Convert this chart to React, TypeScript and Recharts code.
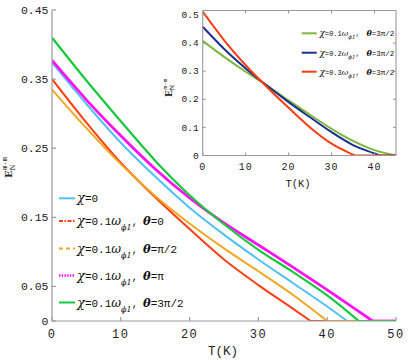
import React from 'react';
import { LineChart, Line, XAxis, YAxis } from 'recharts';

type Pt = [number, number];

// ---------- main chart data: T (K) vs E_N^{m-m} ----------
const chiZero: Pt[] = [[0, 0.374], [5, 0.314], [10, 0.258], [15, 0.209], [20, 0.164], [25, 0.125], [30, 0.089], [35, 0.055], [40, 0.021], [42.9, 0]];
const thetaZero: Pt[] = [[0, 0.35], [5, 0.287], [10, 0.229], [15, 0.179], [20, 0.133], [25, 0.089], [30, 0.052], [35, 0.018], [37.6, 0]];
const thetaHalfPi: Pt[] = [[0, 0.335], [5, 0.279], [10, 0.227], [15, 0.181], [20, 0.141], [25, 0.105], [30, 0.072], [35, 0.038], [40, 0]];
const thetaPi: Pt[] = [[0, 0.377], [5, 0.32], [10, 0.268], [15, 0.22], [20, 0.178], [25, 0.142], [30, 0.11], [35, 0.078], [40, 0.045], [45, 0.011], [46.6, 0]];
const theta3HalfPi: Pt[] = [[0, 0.41], [5, 0.348], [10, 0.289], [15, 0.232], [20, 0.182], [25, 0.14], [30, 0.103], [35, 0.071], [40, 0.037], [44.6, 0]];
const mainTMax = 50;

// ---------- inset data ----------
const insetChi01: Pt[] = [[0, 0.408], [5, 0.351], [10, 0.298], [15, 0.249], [20, 0.196], [25, 0.145], [30, 0.095], [35, 0.052], [40, 0.019], [45, 0]];
const insetChi02: Pt[] = [[0, 0.458], [5, 0.379], [10, 0.31], [15, 0.248], [20, 0.19], [25, 0.136], [30, 0.083], [35, 0.037], [40, 0.007], [41.2, 0]];
const insetChi03: Pt[] = [[0, 0.512], [5, 0.41], [10, 0.321], [15, 0.243], [20, 0.17], [25, 0.1], [30, 0.042], [35, 0.003], [35.4, 0]];
const insetTMax = 45;

// ---------- ticks & labels ----------
const mainXTicks = [0, 10, 20, 30, 40, 50];
const mainYTicks = [0, 0.05, 0.15, 0.25, 0.35, 0.45];
const insetXTicks = [0, 10, 20, 30, 40];
const insetTopTicks = [10, 20, 30, 40];
const insetYTicks = [0, 0.1, 0.2, 0.3, 0.4, 0.5];
const insetRightTicks = [0.1, 0.2, 0.3, 0.4];
const mainLegendTheta = ['', '0', 'π/2', 'π', '3π/2'];
const insetLegendChi = ['0.1', '0.2', '0.3'];
const xTitle = 'T(K)';

const mainColors = ['#52c0f2', '#ff4012', '#f2a624', '#ff10f4', '#16c83c'];
const mainWidths = [2, 2, 2, 2.8, 2.2];
const mainDash = ['', '4 1.5 1.5 1.5', '4 3', '1.5 1.2', ''];
const insetColors = ['#7db83c', '#1c2f8f', '#ff3b10'];

const AX = '#9a9a9a';
const MONO = 'Liberation Mono, DejaVu Sans Mono, monospace';
const SERIF = 'DejaVu Serif, Liberation Serif, serif';

const toData = (pts: Pt[]) => pts.map(([T, E]) => ({ T, E }));
const tail = (pts: Pt[], end: number) => {
  const last = pts[pts.length - 1][0];
  return last < end ? [{ T: last, E: 0 }, { T: end, E: 0 }] : [];
};
const fmtMain = (v: number) => (v === 0 ? '0' : v.toFixed(2));
const fmtInset = (v: number) => (v === 0 ? '0' : v.toFixed(1));

const MainYTick = (p: any) => (
  <g>
    <line x1={p.x} x2={p.x + 4} y1={p.y} y2={p.y} stroke={AX} strokeWidth={1.2} />
    <text x={p.x - 3.5} y={p.y + 3.8} textAnchor="end" fontFamily={MONO} fontSize={11.5} fill="#222">
      {fmtMain(p.payload.value)}
    </text>
  </g>
);
const MainXTick = (p: any) => (
  <g>
    <line x1={p.x} x2={p.x} y1={p.y} y2={p.y - 4} stroke={AX} strokeWidth={1.2} />
    <text x={p.x} y={p.y + 16.5} textAnchor="middle" fontFamily={MONO} fontSize={12} letterSpacing={1.5} fill="#222">
      {p.payload.value}
    </text>
  </g>
);
const InsetYTick = (p: any) => (
  <g>
    <line x1={p.x} x2={p.x + 3} y1={p.y} y2={p.y} stroke={AX} strokeWidth={1.1} />
    <text x={p.x - 4} y={p.y + 3.2} textAnchor="end" fontFamily={MONO} fontSize={9.5} fill="#222">
      {fmtInset(p.payload.value)}
    </text>
  </g>
);
const InsetXTick = (p: any) => (
  <g>
    <line x1={p.x} x2={p.x} y1={p.y} y2={p.y - 3} stroke={AX} strokeWidth={1.1} />
    <text x={p.x} y={p.y + 14.5} textAnchor="middle" fontFamily={MONO} fontSize={10} letterSpacing={1} fill="#222">
      {p.payload.value}
    </text>
  </g>
);
const InsetTopTick = (p: any) => (
  <line x1={p.x} x2={p.x} y1={p.y} y2={p.y + 3} stroke={AX} strokeWidth={1.1} />
);
const InsetRightTick = (p: any) => (
  <line x1={p.x} x2={p.x - 3} y1={p.y} y2={p.y} stroke={AX} strokeWidth={1.1} />
);

const mainSeries = [chiZero, thetaZero, thetaHalfPi, thetaPi, theta3HalfPi];
const insetSeries = [insetChi01, insetChi02, insetChi03];

const mainLegendY = [198.3, 221, 248.5, 275.5, 302.5];
const insetLegendY = [33.3, 52.7, 71.7];

export default function App() {
  return (
    <div style={{ position: 'absolute', left: 0, top: 0, width: 415, height: 360, background: '#fff' }}>
      <div style={{ position: 'absolute', left: 0, top: 0 }}>
        <LineChart width={415} height={360} margin={{ left: 22, right: 19, top: 10, bottom: 9 }}>
          <XAxis dataKey="T" type="number" domain={[0, 50]} ticks={mainXTicks} allowDataOverflow
            height={30} tickSize={0} tickMargin={0} tick={<MainXTick />} tickLine={false}
            axisLine={{ stroke: AX, strokeWidth: 1.2 }} interval={0} />
          <YAxis type="number" domain={[0, 0.45]} ticks={mainYTicks} allowDataOverflow
            width={30} tickSize={0} tickMargin={0} tick={<MainYTick />} tickLine={false}
            axisLine={{ stroke: AX, strokeWidth: 1.2 }} interval={0} />
          {mainSeries.map((s, i) => [
            <Line key={'m' + i} data={toData(s)} dataKey="E" type="monotone" stroke={mainColors[i]}
              strokeWidth={mainWidths[i]} dot={false} activeDot={false} isAnimationActive={false} />,
            <Line key={'mt' + i} data={tail(s, mainTMax)} dataKey="E" type="linear" stroke={mainColors[i]}
              strokeWidth={mainWidths[i]} dot={false} activeDot={false} isAnimationActive={false} />,
          ])}
        </LineChart>
      </div>
      <div style={{ position: 'absolute', left: 0, top: 0 }}>
        <LineChart width={415} height={200} margin={{ left: 172.7, right: 18, top: 9.5, bottom: 14.5 }}>
          <XAxis dataKey="T" type="number" domain={[0, 45]} ticks={insetXTicks} allowDataOverflow
            height={30} tickSize={0} tickMargin={0} tick={<InsetXTick />} tickLine={false}
            axisLine={{ stroke: AX, strokeWidth: 1.1 }} interval={0} />
          <XAxis xAxisId="top" orientation="top" dataKey="T" type="number" domain={[0, 45]} ticks={insetTopTicks}
            allowDataOverflow height={1} tickSize={0} tickMargin={0} tick={<InsetTopTick />} tickLine={false}
            axisLine={{ stroke: AX, strokeWidth: 1.1 }} interval={0} />
          <YAxis type="number" domain={[0, 0.516]} ticks={insetYTicks} allowDataOverflow
            width={30} tickSize={0} tickMargin={0} tick={<InsetYTick />} tickLine={false}
            axisLine={{ stroke: AX, strokeWidth: 1.1 }} interval={0} />
          <YAxis yAxisId="right" orientation="right" type="number" domain={[0, 0.516]} ticks={insetRightTicks}
            allowDataOverflow width={1} tickSize={0} tickMargin={0} tick={<InsetRightTick />} tickLine={false}
            axisLine={{ stroke: AX, strokeWidth: 1.1 }} interval={0} />
          {insetSeries.map((s, i) => [
            <Line key={'i' + i} data={toData(s)} dataKey="E" type="monotone" stroke={insetColors[i]}
              strokeWidth={2} dot={false} activeDot={false} isAnimationActive={false} />,
            <Line key={'it' + i} data={tail(s, insetTMax)} dataKey="E" type="linear" stroke={insetColors[i]}
              strokeWidth={2} dot={false} activeDot={false} isAnimationActive={false} />,
          ])}
        </LineChart>
      </div>
      <svg width={415} height={360} style={{ position: 'absolute', left: 0, top: 0, pointerEvents: 'none' }}>
        <text x={223} y={355} textAnchor="middle" fontFamily={MONO} fontSize={12.5} fill="#222">{xTitle}</text>
        <text x={298} y={187} textAnchor="middle" fontFamily={MONO} fontSize={10.5} fill="#222">{xTitle}</text>
        <g transform="translate(11.5,178) rotate(-90)">
          <text fontFamily={SERIF} fontSize={10} fill="#222">
            <tspan fontWeight="bold">E</tspan>
            <tspan dy={3} fontSize={7}>N</tspan>
            <tspan dx={-5.5} dy={-8} fontSize={7} fontFamily={MONO}>m-m</tspan>
          </text>
        </g>
        <g transform="translate(171.5,97) rotate(-90)">
          <text fontFamily={SERIF} fontSize={9} fill="#222">
            <tspan fontWeight="bold">E</tspan>
            <tspan dy={2.5} fontSize={6}>N</tspan>
            <tspan dx={-4.5} dy={-7} fontSize={6} fontFamily={MONO}>m-m</tspan>
          </text>
        </g>
        {mainLegendY.map((yl, i) => (
          <g key={'lg' + i}>
            <line x1={59} x2={75} y1={yl} y2={yl} stroke={mainColors[i]} strokeWidth={i === 3 ? 2.5 : 2}
              strokeDasharray={mainDash[i] || undefined} />
            <text x={77} y={yl + 4} fontFamily={MONO} fontSize={11} fill="#111">
              <tspan fontFamily={SERIF} fontStyle="italic" fontSize={13}>χ</tspan>
              <tspan>{i === 0 ? '=0' : '=0.1'}</tspan>
              {i > 0 && <tspan fontFamily={SERIF} fontStyle="italic" fontSize={12}>ω</tspan>}
              {i > 0 && <tspan dy={5} fontFamily={SERIF} fontStyle="italic" fontSize={8}>ϕ1</tspan>}
              {i > 0 && <tspan dy={-5} fontSize={10}>,</tspan>}
            </text>
            {i > 0 && (
              <text x={143} y={yl + 4} fontFamily={MONO} fontSize={11} fill="#111">
                <tspan fontFamily={SERIF} fontStyle="italic" fontWeight="bold" fontSize={11.5}>θ</tspan>
                <tspan>{'=' + mainLegendTheta[i]}</tspan>
              </text>
            )}
          </g>
        ))}
        {insetLegendY.map((yl, i) => (
          <g key={'il' + i}>
            <line x1={301.7} x2={316.7} y1={yl} y2={yl} stroke={insetColors[i]} strokeWidth={2} />
            <text x={319.5} y={yl + 3} fontFamily={MONO} fontSize={7} fill="#111">
              <tspan fontFamily={SERIF} fontStyle="italic" fontSize={9}>χ</tspan>
              <tspan>{'=' + insetLegendChi[i]}</tspan>
              <tspan fontFamily={SERIF} fontStyle="italic" fontSize={8}>ω</tspan>
              <tspan dy={3} fontFamily={SERIF} fontStyle="italic" fontSize={5.5}>ϕ1</tspan>
              <tspan dy={-3}>,</tspan>
            </text>
            <text x={366.5} y={yl + 3} fontFamily={MONO} fontSize={7.5} fill="#111">
              <tspan fontFamily={SERIF} fontStyle="italic" fontWeight="bold" fontSize={8}>θ</tspan>
              <tspan>=3π/2</tspan>
            </text>
          </g>
        ))}
      </svg>
    </div>
  );
}
